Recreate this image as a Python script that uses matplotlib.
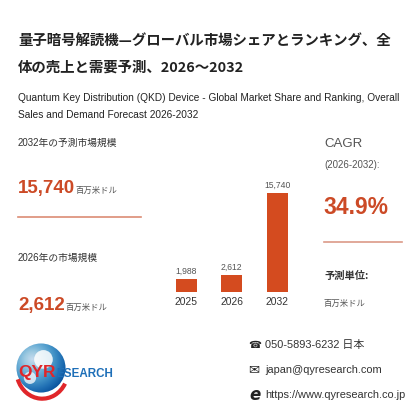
import numpy as np
import matplotlib
matplotlib.use("Agg")
import matplotlib.pyplot as plt
from matplotlib.patches import Circle, Arc
from matplotlib.lines import Line2D

# data
years = ["2025", "2026", "2032"]
market_size = [1988, 2612, 15740]
size_2032 = "15,740"
size_2026 = "2,612"
cagr = "34.9%"
unit = "百万米ドル"

title_jp = ["量子暗号解読機—グローバル市場シェアとランキング、全", "体の売上と需要予測、2026～2032"]
title_en = ["Quantum Key Distribution (QKD) Device - Global Market Share and Ranking, Overall",
            "Sales and Demand Forecast 2026-2032"]

ACCENT = "#cc4a26"
BAR = "#d44b1f"
TEXT = "#333333"
GRAY = "#555555"

JP = ["Noto Sans CJK JP", "DejaVu Sans"]
EN = ["Liberation Sans", "Noto Sans CJK JP"]

fig = plt.figure(figsize=(4.2, 4.2), dpi=100)
fig.patch.set_facecolor("white")


def fx(x):
    return x / 420


def fy(y):
    return 1 - y / 420


def txt(x, y, s, **kw):
    kw.setdefault("va", "center")
    kw.setdefault("ha", "left")
    fig.text(fx(x), fy(y), s, **kw)


# titles
txt(18, 41, title_jp[0], family=JP, fontsize=10.4, weight="bold", color="#222222")
txt(18, 68, title_jp[1], family=JP, fontsize=10.4, weight="bold", color="#222222")
txt(18, 98, title_en[0], family=EN, fontsize=7.3, color="#222222")
txt(18, 115, title_en[1], family=EN, fontsize=7.3, color="#222222")

# left column
txt(18, 143, "2032年の予測市場規模", family=EN, fontsize=7.0, color=TEXT)
txt(18, 193, size_2032, family=EN, fontsize=13.5, weight="bold", color=ACCENT, va="baseline")
txt(76, 193, unit, family=JP, fontsize=6, color=GRAY, va="baseline")
fig.add_artist(Line2D([fx(18), fx(141)], [fy(217), fy(217)], color="#dc8c74", lw=1.2))
txt(18, 258, "2026年の市場規模", family=EN, fontsize=7.0, color=TEXT)
txt(18, 310, size_2026, family=EN, fontsize=13.5, weight="bold", color=ACCENT, va="baseline")
txt(65, 310, unit, family=JP, fontsize=6, color=GRAY, va="baseline")

# right column
txt(324, 144, "CAGR", family=EN, fontsize=9.5, color=GRAY)
txt(324, 165, "(2026-2032):", family=EN, fontsize=7.0, color=GRAY)
txt(323, 208, cagr, family=EN, fontsize=16.5, weight="bold", color=ACCENT)
fig.add_artist(Line2D([fx(324), fx(402)], [fy(242), fy(242)], color="#dc9a88", lw=1.2))
txt(324, 276, "予測単位:", family=JP, fontsize=7.4, weight="bold", color=TEXT)
txt(324, 303, unit, family=JP, fontsize=6, color=GRAY)

# bars
ax = fig.add_axes([fx(163.5), fy(291.7), 136.5 / 420, 106.3 / 420])
x = np.arange(len(years))
ax.bar(x, market_size, width=0.46, color=BAR)
ax.set_xlim(-0.5, 2.5)
ax.set_ylim(0, 17000)
for xi, v in zip(x, market_size):
    ax.text(xi, v + 500, f"{v:,}", ha="center", va="bottom", family=EN, fontsize=6.2, color=GRAY)
ax.set_xticks(x)
ax.set_xticklabels(years, family=EN, fontsize=7.4, color=TEXT)
ax.tick_params(axis="x", length=0, pad=4)
ax.set_yticks([])
for sp in ax.spines.values():
    sp.set_visible(False)
ax.patch.set_alpha(0)

# logo
lax = fig.add_axes([fx(14), fy(402), 54 / 420, 68 / 420])
lax.set_xlim(-1.1, 1.1)
lax.set_ylim(-1.35, 1.35)
lax.set_aspect("equal")
lax.axis("off")
gx, gy = np.meshgrid(np.linspace(-1, 1, 120), np.linspace(-1, 1, 120))
r = np.hypot(gx + 0.35, gy - 0.35)
grad = lax.imshow(r, extent=(-1, 1, -1, 1), origin="lower", cmap="Blues", vmin=-0.6, vmax=1.8)
globe = Circle((0, 0), 1.0, transform=lax.transData)
grad.set_clip_path(globe)
lax.add_patch(Circle((0.1, 0.35), 0.38, color="white", alpha=0.85, lw=0))
lax.add_patch(Circle((-0.45, -0.4), 0.25, color="white", alpha=0.75, lw=0))
lax.add_patch(Arc((0.05, -0.1), 2.1, 2.3, theta1=200, theta2=330, color="#e0262a", lw=3))
txt(18, 372, "QYR", family="Liberation Sans", fontsize=12.5, weight="bold", color="#e0262a")
txt(56, 374, "ESEARCH", family="Liberation Sans", fontsize=8.4, weight="bold", color="#1e6fb8")

# contacts
txt(248, 345, "\u260e", family="DejaVu Sans", fontsize=7.5, color="#222222")
txt(265, 345, "050-5893-6232 日本", family=EN, fontsize=7.9, color=TEXT)
txt(248, 370, "\u2709", family="DejaVu Sans", fontsize=9.5, color="#222222")
txt(265, 370, "japan@qyresearch.com", family=EN, fontsize=7.9, color=TEXT)
txt(249, 395, "e", family="DejaVu Sans", fontsize=12, weight="bold", style="italic", color="#222222")
txt(265, 395, "https://www.qyresearch.co.jp", family=EN, fontsize=7.9, color=TEXT)

fig.savefig("out.png", dpi=100, facecolor="white")
